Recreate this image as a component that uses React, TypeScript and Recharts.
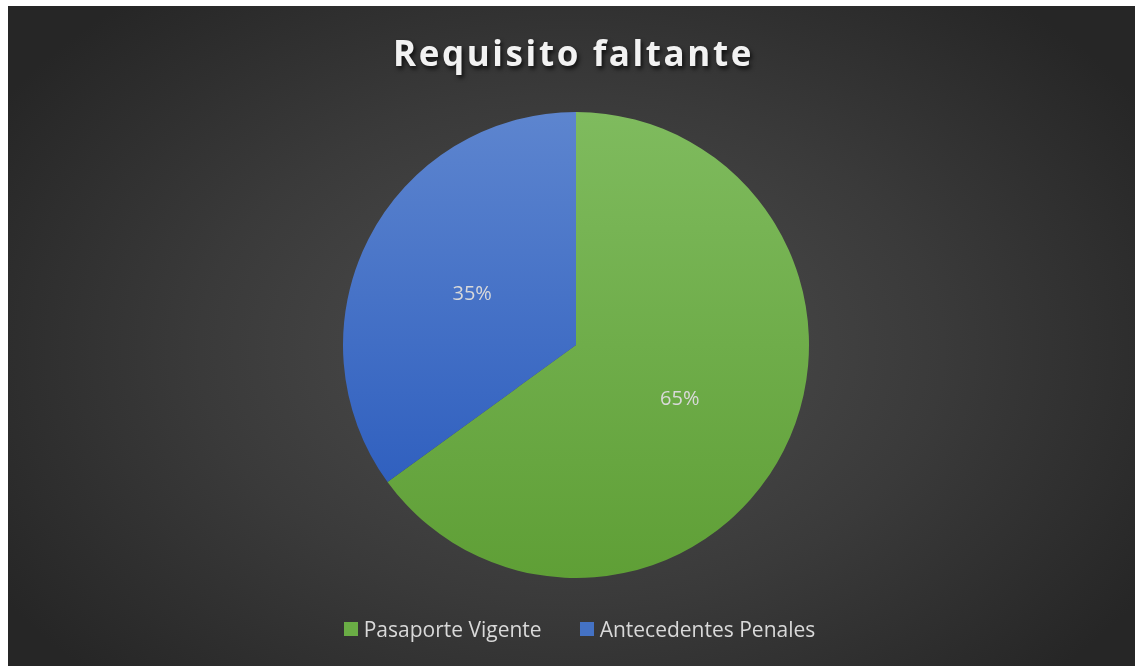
import React from "react";
import { PieChart, Pie, Cell } from "recharts";

const categories = ["Pasaporte Vigente", "Antecedentes Penales"];
const values = [65, 35];
const colorsTop = ["#7fbb5e", "#5d85cf"];
const colorsBottom = ["#5f9f36", "#3060bf"];
const legendColors = ["#6aad45", "#4472c4"];

const data = categories.map((name, i) => ({ name, value: values[i] }));
const total = values.reduce((a, b) => a + b, 0);

const RADIAN = Math.PI / 180;

const renderLabel = (props: any) => {
  const { cx, cy, midAngle, outerRadius, value } = props;
  const r = outerRadius * 0.5;
  const x = cx + r * Math.cos(-midAngle * RADIAN);
  const y = cy + r * Math.sin(-midAngle * RADIAN);
  return (
    <text
      x={x}
      y={y}
      fill="#d9d9d9"
      fontSize={20}
      fontFamily="Open Sans"
      textAnchor="middle"
      dominantBaseline="central"
    >
      {Math.round((value / total) * 100)}%
    </text>
  );
};

export default function App() {
  return (
    <div
      style={{
        position: "fixed",
        left: 8,
        top: 6,
        width: 1127,
        height: 660,
        background:
          "radial-gradient(ellipse 60% 70% at 50% 52%, #4f4f4f 0%, #3a3a3a 55%, #262626 100%)",
        fontFamily: "Open Sans",
      }}
    >
      <div
        style={{
          position: "absolute",
          top: 23,
          left: 2,
          width: "100%",
          textAlign: "center",
          color: "#f2f2f2",
          fontSize: 35,
          fontWeight: 700,
          letterSpacing: 2.6,
          textShadow: "2px 3px 4px rgba(0,0,0,0.7)",
        }}
      >
        Requisito faltante
      </div>
      <div style={{ position: "absolute", left: 0, top: 0 }}>
        <PieChart width={1127} height={660}>
          <defs>
            {categories.map((c, i) => (
              <linearGradient key={c} id={`g${i}`} x1="0" y1="0" x2="0" y2="1">
                <stop offset="0%" stopColor={colorsTop[i]} />
                <stop offset="100%" stopColor={colorsBottom[i]} />
              </linearGradient>
            ))}
          </defs>
          <Pie
            data={data}
            dataKey="value"
            nameKey="name"
            cx={563}
            cy={334}
            outerRadius={233}
            startAngle={90}
            endAngle={-270}
            stroke="none"
            label={renderLabel}
            labelLine={false}
            isAnimationActive={false}
          >
            {data.map((d, i) => (
              <Cell key={d.name} fill={`url(#g${i})`} />
            ))}
          </Pie>
        </PieChart>
      </div>
      <div
        style={{
          position: "absolute",
          top: 609,
          left: 8,
          width: "100%",
          display: "flex",
          justifyContent: "center",
          gap: 38,
          color: "#d9d9d9",
          fontSize: 21,
        }}
      >
        {categories.map((c, i) => (
          <div key={c} style={{ display: "flex", alignItems: "center" }}>
            <span
              style={{
                display: "inline-block",
                width: 14,
                height: 14,
                background: legendColors[i],
                marginRight: 6,
              }}
            />
            {c}
          </div>
        ))}
      </div>
    </div>
  );
}
